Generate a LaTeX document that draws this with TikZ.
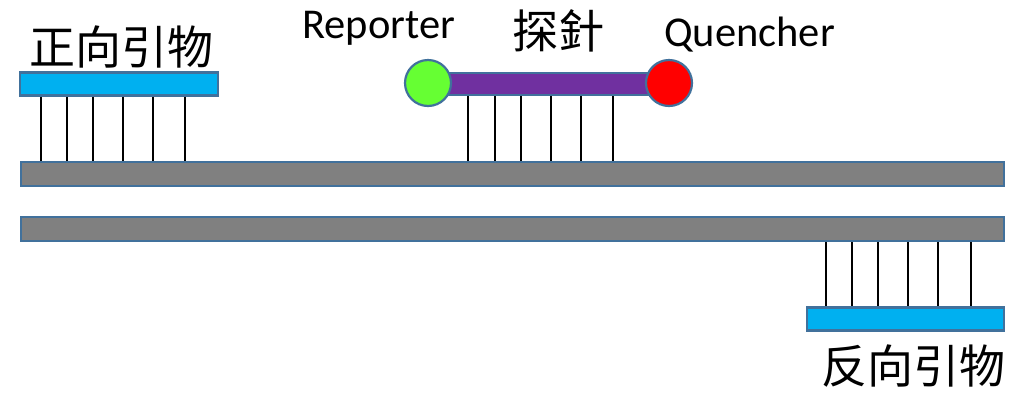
\documentclass[tikz,border=0pt]{standalone}
\usepackage{fontspec}
\setmainfont{Carlito}
\newfontfamily\cjk{Noto Sans CJK SC}
\definecolor{edgeblue}{HTML}{41719C}
\definecolor{primerblue}{HTML}{00B0F0}
\definecolor{strandgray}{HTML}{808080}
\definecolor{probepurple}{HTML}{7030A0}
\definecolor{repgreen}{HTML}{66FF33}
\definecolor{quenred}{HTML}{FF0000}
\tikzset{
  barbox/.style={draw=edgeblue, line width=2.2pt, rectangle, inner sep=0pt},
  strand/.style={barbox, fill=strandgray, minimum width=983pt, minimum height=24pt},
  primer/.style={barbox, fill=primerblue, minimum height=23pt},
  dye/.style={circle, draw=edgeblue, line width=2.2pt, minimum size=46pt, inner sep=0pt},
  bond/.style={line width=1.1pt, black},
  cjklabel/.style={inner sep=0pt, font=\cjk\fontsize{46}{46}\selectfont},
  latlabel/.style={inner sep=0pt, anchor=base west, font=\fontsize{42.5}{42.5}\selectfont}
}
\begin{document}
\begin{tikzpicture}[x=1pt,y=-1pt]
\useasboundingbox (0,0) rectangle (1024,392);
% strands
\node[strand] (s1) at (512.5,174) {};
\node[strand] (s2) at (512.5,229) {};
% forward primer
\node[primer, minimum width=198pt] (fp) at (119,84) {};
% reverse primer
\node[primer, minimum width=197pt] (rp) at (905.5,319) {};
% probe
\node[barbox, fill=probepurple, minimum width=215pt, minimum height=22pt] (pb) at (548,84) {};
\node[dye, fill=repgreen] (rep) at (428,83) {};
\node[dye, fill=quenred] (que) at (669,83) {};
% bonds
\foreach \x in {41,67,93,123,153,185}
  \draw[bond] (\x,0 |- fp.south) -- (\x,0 |- s1.north);
\foreach \x in {468,495,521,551,581,613}
  \draw[bond] (\x,0 |- pb.south) -- (\x,0 |- s1.north);
\foreach \x in {826,852,878,908,938,971}
  \draw[bond] (\x,0 |- s2.south) -- (\x,0 |- rp.north);
% labels
\node[cjklabel] (fpl) at (121,47) {正向引物};
\node[cjklabel] (pbl) at (558,31) {探針};
\node[cjklabel] (rpl) at (913,366) {反向引物};
\node[latlabel] (repl) at (302,38) {Reporter};
\node[latlabel] (quel) at (664,46) {Quencher};
\end{tikzpicture}
\end{document}
